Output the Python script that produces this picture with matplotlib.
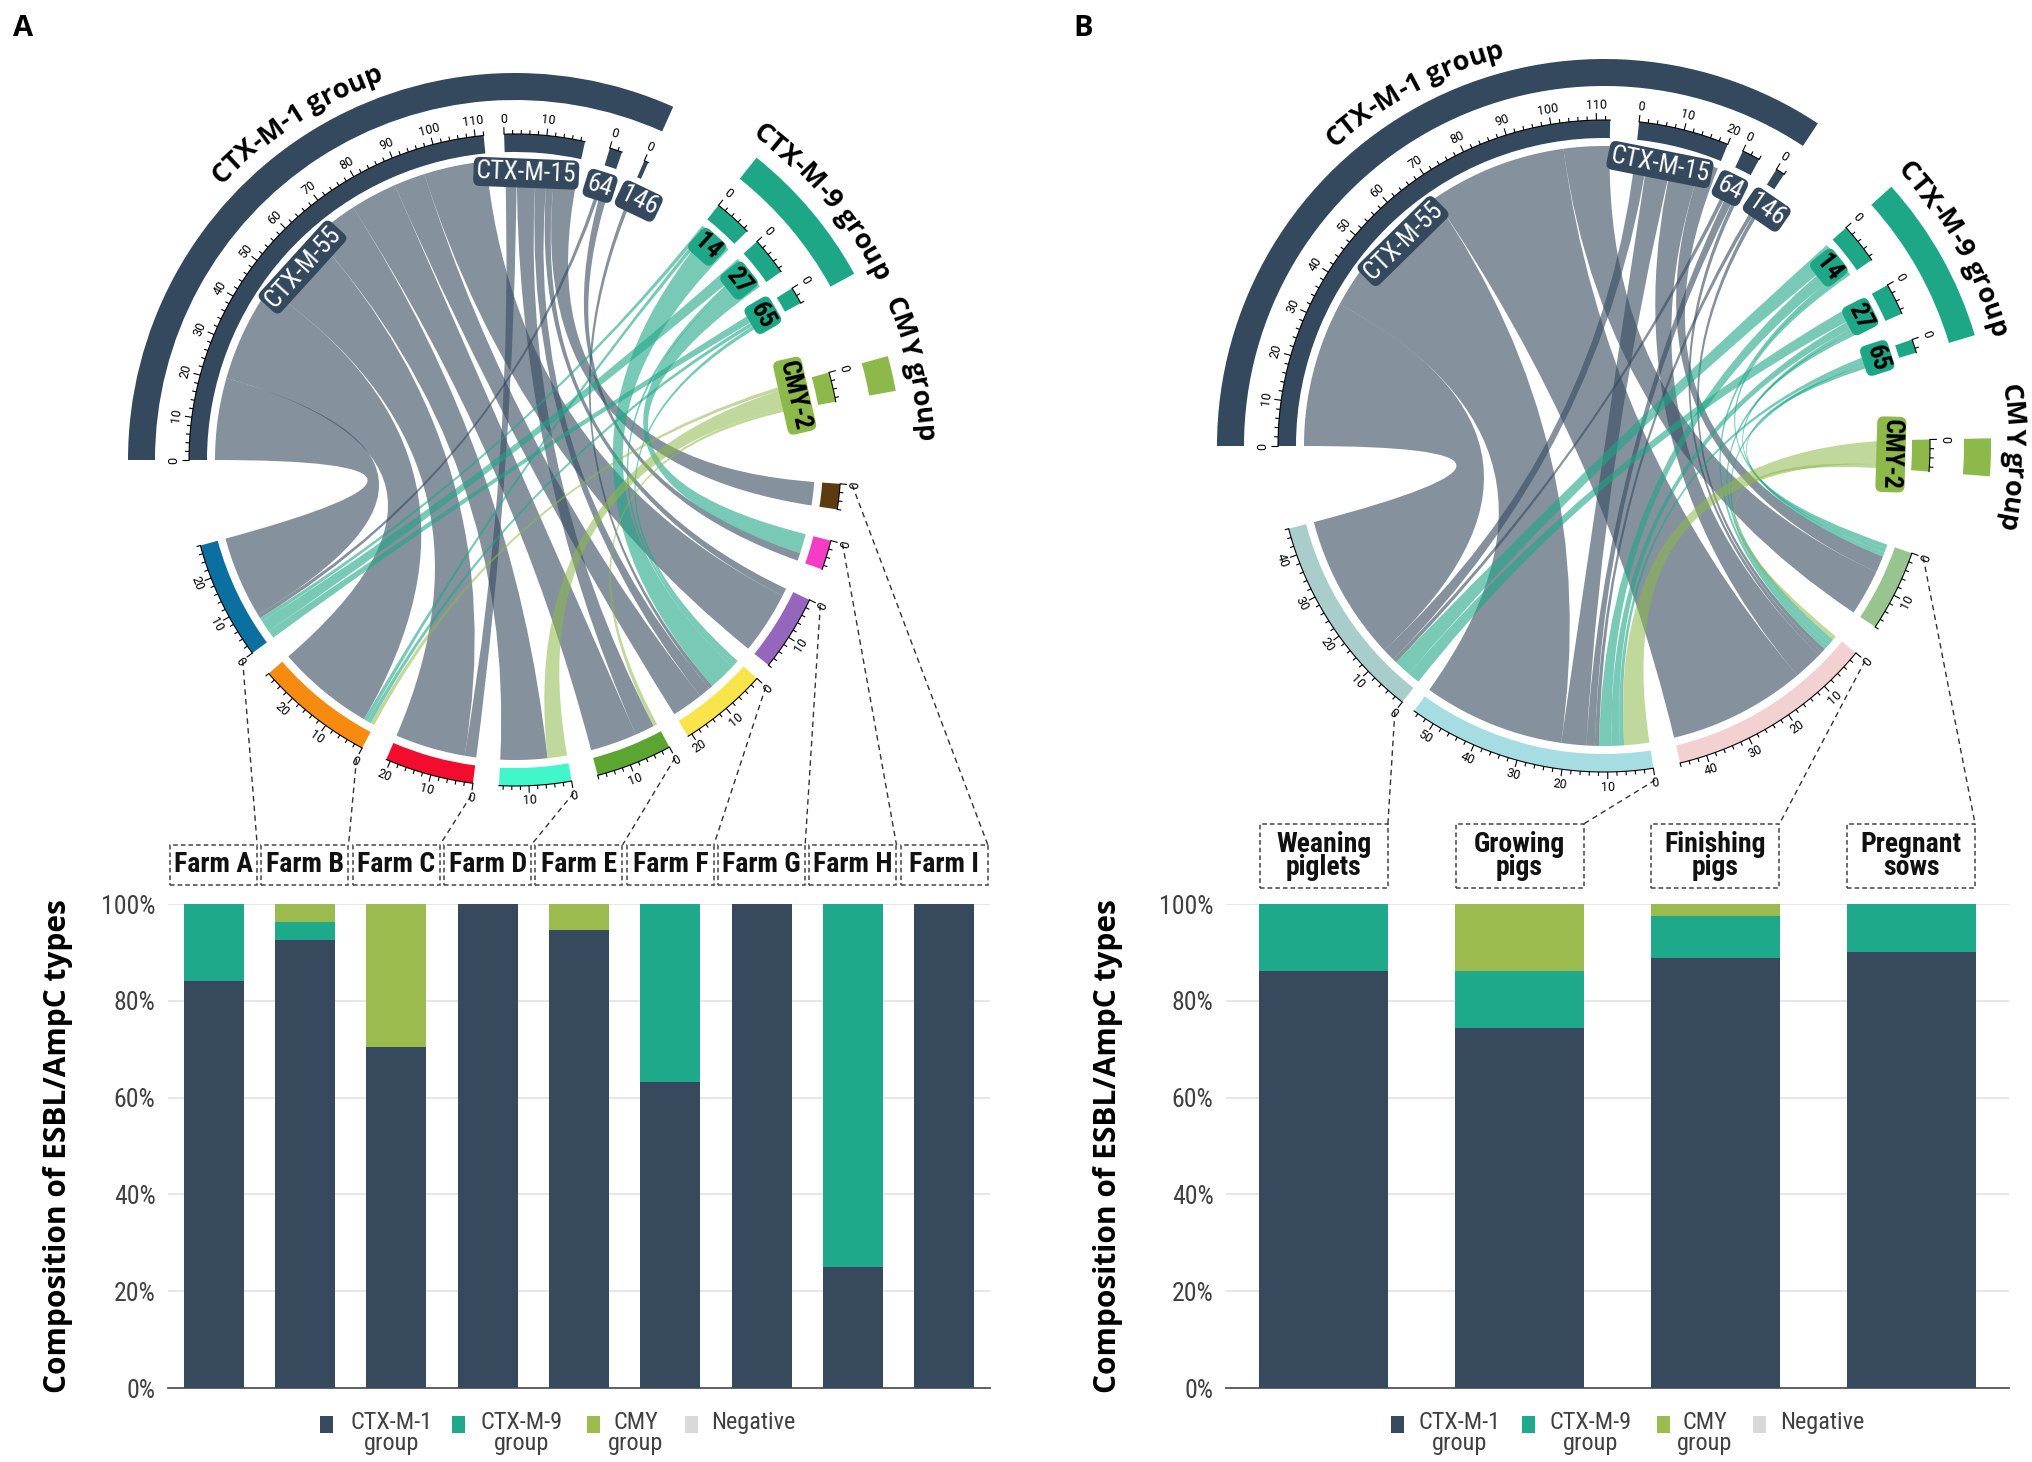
import numpy as np
import matplotlib
matplotlib.use("Agg")
import matplotlib.pyplot as plt
from matplotlib.path import Path
from matplotlib.patches import PathPatch, Wedge, Rectangle
from matplotlib.collections import LineCollection
from matplotlib.ticker import PercentFormatter
from matplotlib import font_manager
from matplotlib.ft2font import FT2Font

# ---------------- data ----------------
farms = ["Farm A", "Farm B", "Farm C", "Farm D", "Farm E", "Farm F", "Farm G", "Farm H", "Farm I"]
farm_ctxm1 = [0.84, 0.926, 0.705, 1.0, 0.947, 0.632, 1.0, 0.25, 1.0]
farm_ctxm9 = [0.16, 0.037, 0.0, 0.0, 0.0, 0.368, 0.0, 0.75, 0.0]
farm_cmy = [0.0, 0.037, 0.295, 0.0, 0.053, 0.0, 0.0, 0.0, 0.0]
farm_neg = [0, 0, 0, 0, 0, 0, 0, 0, 0]

stages = ["Weaning\npiglets", "Growing\npigs", "Finishing\npigs", "Pregnant\nsows"]
stage_ctxm1 = [0.862, 0.744, 0.889, 0.901]
stage_ctxm9 = [0.138, 0.118, 0.087, 0.099]
stage_cmy = [0.0, 0.138, 0.024, 0.0]
stage_neg = [0, 0, 0, 0]

legend_labels = ["CTX-M-1\ngroup", "CTX-M-9\ngroup", "CMY\ngroup", "Negative"]

genes = ["CTX-M-55", "CTX-M-15", "64", "146", "14", "27", "65", "CMY-2"]
gene_group = [0, 0, 0, 0, 1, 1, 1, 2]
groups = ["CTX-M-1 group", "CTX-M-9 group", "CMY group"]

# isolates per gene (rows) and farm (columns A..I)
farm_links = [
    [21, 25, 18, 12, 12, 8, 16, 0, 0],   # CTX-M-55
    [0, 0, 3, 0, 5, 3, 2, 0, 6],         # CTX-M-15
    [1, 0, 0, 0, 0, 0, 0, 2, 0],         # CTX-M-64
    [0, 0, 0, 0, 0, 1, 0, 0, 0],         # CTX-M-146
    [1, 1, 0, 0, 0, 7, 0, 0, 0],         # CTX-M-14
    [3, 0, 0, 0, 0, 1, 0, 5, 0],         # CTX-M-27
    [2, 1, 0, 0, 0, 1, 0, 0, 0],         # CTX-M-65
    [0, 1, 0, 5, 1, 0, 0, 0, 0],         # CMY-2
]
# isolates per gene (rows) and production stage (columns)
stage_links = [
    [35, 34, 33, 11],
    [3, 6, 7, 4],
    [1, 2, 1, 0],
    [0, 1, 1, 0],
    [4, 3, 1, 1],
    [3, 2, 1, 1],
    [0, 1, 1, 1],
    [0, 6, 1, 0],
]

# ---------------- style ----------------
C1, C9, CCMY, CNEG = "#374A5D", "#1EAA8A", "#9BBB4E", "#D9D9D9"
group_cols = ["#34495E", "#1EA787", "#8DB84A"]
link_alpha = [0.6, 0.6, 0.55]
farm_cols = ["#0B6FA0", "#F68B0F", "#F20C2E", "#41F7C9", "#5AA630",
             "#F9E54B", "#9467BD", "#F43CC6", "#5C3B10"]
stage_cols = ["#A8CDCB", "#A6DDE2", "#F3D1D3", "#98C58F"]
label_shift = [0, 3.0, 0.8, -1.8, 0, 0, 0, 0]   # degrees, for gene label placement

names = {f.name for f in font_manager.fontManager.ttflist}
BOLD = "Open Sans" if "Open Sans" in names else "DejaVu Sans"
if "Roboto Condensed" in names:
    COND, BOX_FS, GENE_FS = "Roboto Condensed", 20, 18.5
else:
    COND, BOX_FS, GENE_FS = "Roboto", 18.5, 16.5
plt.rcParams["font.family"] = ["Roboto", "DejaVu Sans"]

W, H = 2033, 1462
fig = plt.figure(figsize=(W / 100, H / 100), dpi=100)
ax0 = fig.add_axes([0, 0, 1, 1])
ax0.set_xlim(0, W)
ax0.set_ylim(0, H)
ax0.axis("off")

R_LINK, R_TR0, R_TR1 = 300, 308, 326
R_G0, R_G1 = 360, 387
R_LAB, R_TXT = 287, 402


def polar(cx, cy, r, a):
    t = np.radians(a)
    return cx + r * np.cos(t), cy + r * np.sin(t)


def arc(cx, cy, r, a0, a1):
    n = max(2, int(abs(a0 - a1) / 0.5) + 2)
    t = np.radians(np.linspace(a0, a1, n))
    return np.column_stack([cx + r * np.cos(t), cy + r * np.sin(t)])


def tang_rot(a):
    a = a % 360
    return a - 90 if a <= 180 else a + 90


def ribbon(cx, cy, g0, g1, f0, f1, color, alpha):
    a = arc(cx, cy, R_LINK, g0, g1)
    b = arc(cx, cy, R_LINK, f0, f1)
    verts = list(a) + [(cx, cy), polar(cx, cy, R_LINK, f0)] + list(b[1:]) + \
        [(cx, cy), polar(cx, cy, R_LINK, g0), (0, 0)]
    codes = [Path.MOVETO] + [Path.LINETO] * (len(a) - 1) + [Path.CURVE3] * 2 + \
        [Path.LINETO] * (len(b) - 1) + [Path.CURVE3] * 2 + [Path.CLOSEPOLY]
    ax0.add_patch(PathPatch(Path(verts, codes), fc=color, ec="none", alpha=alpha, zorder=2))


def track(cx, cy, a0, size, scale, color):
    a1 = a0 - size * scale
    ax0.add_patch(Wedge((cx, cy), R_TR1, a1, a0, width=R_TR1 - R_TR0, fc=color, ec="none", zorder=3))
    ln = arc(cx, cy, R_TR1, a0, a1)
    ax0.plot(ln[:, 0], ln[:, 1], color="black", lw=0.8, zorder=4)
    segs = []
    for v in range(0, int(size) + 1, 2):
        a = a0 - v * scale
        major = v % 10 == 0
        segs.append([polar(cx, cy, R_TR1, a), polar(cx, cy, R_TR1 + (7 if major else 4), a)])
        if major:
            x, y = polar(cx, cy, R_TR1 + 15, a)
            ax0.text(x, y, str(v), rotation=tang_rot(a), rotation_mode="anchor",
                     ha="center", va="center", fontsize=9, zorder=4)
    ax0.add_collection(LineCollection(segs, colors="black", lw=0.8, zorder=4))


def arc_text(cx, cy, r, ac, s, size):
    fp = font_manager.FontProperties(family=BOLD, weight="bold", size=size)
    try:
        ft = FT2Font(font_manager.findfont(fp))
        ft.set_size(size, fig.dpi)
        adv = [ft.load_char(ord(c)).linearHoriAdvance / 65536 for c in s]
    except Exception:
        adv = [size * fig.dpi / 72 * 0.6 for c in s]
    adv = np.array(adv)
    pos = np.cumsum(np.r_[0, adv[:-1]]) + adv / 2 - adv.sum() / 2
    for c, p in zip(s, pos):
        a = ac - np.degrees(p / r)
        x, y = polar(cx, cy, r, a)
        ax0.text(x, y, c, rotation=a - 90, rotation_mode="anchor", ha="center",
                 va="baseline", fontproperties=fp, color="black", zorder=5)


def chord(cx, cy, mat, col_colors, gaps, end_angle):
    mat = np.asarray(mat, float)
    ng, nc = mat.shape
    sizes = list(mat.sum(1)) + list(mat.sum(0)[::-1])
    scale = (180.0 - end_angle - sum(gaps)) / sum(sizes)
    starts, a = [], 180.0
    for k, s in enumerate(sizes):
        starts.append(a)
        a -= s * scale
        if k < len(gaps):
            a -= gaps[k]
    g_start = starts[:ng]
    c_start = starts[ng:][::-1]
    g_slot, c_slot = {}, {}
    for i in range(ng):
        a = g_start[i]
        for j in range(nc):
            g_slot[i, j] = (a, a - mat[i, j] * scale)
            a -= mat[i, j] * scale
    for j in range(nc):
        a = c_start[j]
        for i in reversed(range(ng)):
            c_slot[i, j] = (a, a - mat[i, j] * scale)
            a -= mat[i, j] * scale
    for i in range(ng):
        g = gene_group[i]
        for j in range(nc):
            if mat[i, j] > 0:
                ribbon(cx, cy, *g_slot[i, j], *c_slot[i, j], group_cols[g], link_alpha[g])
    # gene tracks and labels
    for i in range(ng):
        g = gene_group[i]
        track(cx, cy, g_start[i], mat[i].sum(), scale, group_cols[g])
        am = g_start[i] - mat[i].sum() * scale / 2 + label_shift[i]
        x, y = polar(cx, cy, R_LAB, am)
        ax0.text(x, y, genes[i], rotation=am - 90, rotation_mode="anchor", ha="center", va="center",
                 fontsize=GENE_FS, fontfamily=COND, color="white" if g == 0 else "black",
                 fontweight="normal" if g == 0 else "bold", zorder=6,
                 bbox=dict(boxstyle="round,pad=0.1,rounding_size=0.25", fc=group_cols[g], ec="none"))
    # group tracks
    for g in range(len(groups)):
        idx = [i for i in range(ng) if gene_group[i] == g]
        a0 = g_start[idx[0]]
        a1 = g_start[idx[-1]] - mat[idx[-1]].sum() * scale
        ax0.add_patch(Wedge((cx, cy), R_G1, a1, a0, width=R_G1 - R_G0, fc=group_cols[g], ec="none", zorder=3))
        arc_text(cx, cy, R_TXT, (a0 + a1) / 2, groups[g], 19.5)
    # column tracks
    for j in range(nc):
        track(cx, cy, c_start[j], mat[:, j].sum(), scale, col_colors[j])
    return c_start


def bars(ax, labels, s1, s9, scmy, sneg):
    x = np.arange(len(labels))
    b = np.zeros(len(labels))
    for vals, col in [(s1, C1), (s9, C9), (scmy, CCMY), (sneg, CNEG)]:
        ax.bar(x, vals, bottom=b, width=0.66, color=col, zorder=3)
        b = b + np.asarray(vals, float)
    ax.set_xlim(-0.5, len(labels) - 0.5)
    ax.set_ylim(0, 1)
    ax.set_xticks([])
    ax.set_yticks(np.linspace(0, 1, 6))
    ax.yaxis.set_major_formatter(PercentFormatter(1.0, decimals=0))
    ax.tick_params(axis="y", length=0, pad=9, labelsize=18.5, labelcolor="#404040")
    for t in ax.get_yticklabels():
        t.set_fontfamily(COND)
    ax.grid(axis="y", color="#E3E3E3", lw=1.2, zorder=0)
    ax.set_axisbelow(True)
    for s in ["left", "top", "right"]:
        ax.spines[s].set_visible(False)
    ax.spines["bottom"].set_color("#555555")
    ax.spines["bottom"].set_linewidth(1.3)
    ax.patch.set_alpha(0)
    ax.set_ylabel("Composition of ESBL/AmpC types", fontfamily=BOLD, fontweight="bold",
                  fontsize=21.5, va="center", ha="center")


def boxes(ax, labels, starts, cx, cy, bw, top, bot):
    for j, name in enumerate(labels):
        xc = ax.transData.transform((j, 0))[0]
        x0, y0, y1 = xc - bw / 2, H - bot, H - top
        ax0.add_patch(Rectangle((x0, y0), bw, y1 - y0, fill=False, ec="#444444", lw=1.1,
                                ls=(0, (3, 2)), zorder=3))
        ax0.text(xc, (y0 + y1) / 2, name, ha="center", va="center", fontsize=BOX_FS,
                 fontfamily=COND, fontweight="bold", linespacing=0.85, color="#111111", zorder=4)
        sx, sy = polar(cx, cy, 338, starts[j])
        ax0.plot([sx, x0 + bw], [sy, y1], ls=(0, (4, 3)), color="#333333", lw=1.0, zorder=3)


def legend(xs_sq, xs_txt):
    for k, lab in enumerate(legend_labels):
        ax0.add_patch(Rectangle((xs_sq[k], H - 1433), 13, 17,
                                fc=[C1, C9, CCMY, CNEG][k], ec="none"))
        ax0.text(xs_txt[k], H - 1411, lab, ha="center", va="top", fontsize=17.5,
                 fontfamily=COND, linespacing=0.9, color="#404040")


# ---------------- panel A ----------------
cxA, cyA = 515, H - 460
gapsA = [3.6, 4.5, 4.2, 14.5, 2.5, 3.5, 13.2, 14.5, 5.6, 5.8, 3.1, 3.8, 4.7, 4.6, 4.7, 4.6]
startsA = chord(cxA, cyA, farm_links, farm_cols, gapsA, -164.8)

axA = fig.add_axes([168 / W, (H - 1388) / H, 822 / W, 484 / H])
bars(axA, farms, farm_ctxm1, farm_ctxm9, farm_cmy, farm_neg)
axA.yaxis.set_label_coords(-0.134, 0.5)
boxes(axA, farms, startsA, cxA, cyA, 87, 845, 885)
legend([320, 452, 587, 685], [392, 522, 636, 753])

# ---------------- panel B ----------------
cxB, cyB = 1604, H - 446
gapsB = [5.1, 2.9, 3.5, 14.4, 5.2, 4.9, 15.5, 14.7, 5.7, 4.8, 2.6]
startsB = chord(cxB, cyB, stage_links, stage_cols, gapsB, -165.3)

axB = fig.add_axes([1226 / W, (H - 1388) / H, 783 / W, 484 / H])
bars(axB, stages, stage_ctxm1, stage_ctxm9, stage_cmy, stage_neg)
axB.yaxis.set_label_coords(-0.151, 0.5)
boxes(axB, stages, startsB, cxB, cyB, 128, 824, 888)
legend([1391, 1522, 1657, 1753], [1460, 1591, 1705, 1822])

fig.text(23 / W, 1 - 28 / H, "A", fontfamily=BOLD, fontweight="bold", fontsize=21, ha="center", va="center")
fig.text(1083 / W, 1 - 28 / H, "B", fontfamily=BOLD, fontweight="bold", fontsize=21, ha="center", va="center")

fig.savefig("out.png", dpi=100)
